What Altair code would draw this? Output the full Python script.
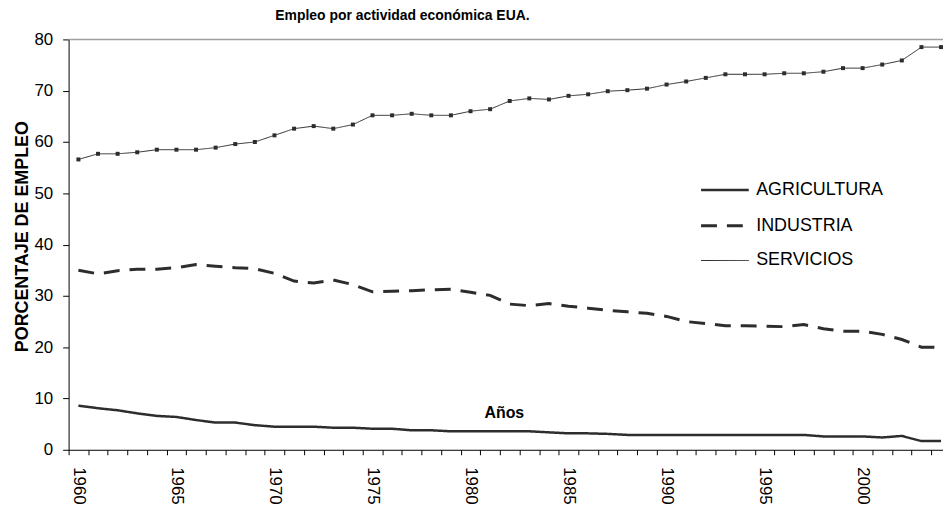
import altair as alt
import pandas as pd

years = list(range(1960, 2005))
agricultura = [8.6, 8.1, 7.7, 7.1, 6.6, 6.4, 5.8, 5.3, 5.3, 4.8, 4.5, 4.5, 4.5, 4.3, 4.3,
               4.1, 4.1, 3.8, 3.8, 3.6, 3.6, 3.6, 3.6, 3.6, 3.4, 3.2, 3.2, 3.1,
               2.9, 2.9, 2.9, 2.9, 2.9, 2.9, 2.9, 2.9, 2.9, 2.9,
               2.6, 2.6, 2.6, 2.4, 2.7, 1.7, 1.7]
industria = [35.0, 34.3, 34.9, 35.2, 35.2, 35.5, 36.1, 35.8, 35.5, 35.3, 34.4, 32.9, 32.5, 33.1, 32.2,
             30.8, 30.9, 31.0, 31.2, 31.3, 30.7, 30.1, 28.4, 28.1, 28.5, 28.0, 27.6, 27.2, 26.9, 26.6,
             26.0, 25.0, 24.6, 24.2, 24.2, 24.1, 24.0, 24.4, 23.6, 23.1, 23.1, 22.5, 21.5, 20.0, 20.0]
servicios = [56.6, 57.7, 57.7, 58.0, 58.5, 58.5, 58.5, 58.9, 59.6, 60.0, 61.3, 62.6, 63.1, 62.6, 63.4,
             65.2, 65.2, 65.5, 65.2, 65.2, 66.0, 66.4, 68.0, 68.5, 68.3, 69.0, 69.3, 69.9, 70.1, 70.4,
             71.2, 71.8, 72.5, 73.2, 73.2, 73.2, 73.4, 73.4, 73.7, 74.4, 74.4, 75.1, 75.9, 78.5, 78.5]
series = ["AGRICULTURA", "INDUSTRIA", "SERVICIOS"]
y_ticks = list(range(0, 81, 10))

rows = []
for name, vals in zip(series, [agricultura, industria, servicios]):
    for yr, v in zip(years, vals):
        rows.append({"year": yr, "value": v, "serie": name})
df = pd.DataFrame(rows)

FONT = "Liberation Sans"
INK = "#2d2d2d"
W, H = 880, 413
dom = [1959.5, 2004.1]
step = W / (dom[1] - dom[0])

x_enc = alt.X(
    "year:Q",
    scale=alt.Scale(domain=dom, nice=False, zero=False),
    axis=alt.Axis(
        values=years,
        labelExpr="datum.value % 5 == 0 ? '' + datum.value : ''",
        labelAngle=90, labelAlign="left", labelBaseline="middle",
        labelOverlap=False, labelBound=False, labelFlush=False,
        tickOffset=-step / 2, labelOffset=step / 2,
        tickSize=5, labelPadding=12, labelFontSize=17, labelFont=FONT, labelColor="black",
        domainColor="black", tickColor="black", grid=False,
        title="Años", titleFont=FONT, titleFontSize=16, titleFontWeight="bold", titleColor="black",
        titleX=438, titleY=-37, titleBaseline="middle", titleAlign="center",
    ),
)
y_enc = alt.Y(
    "value:Q",
    scale=alt.Scale(domain=[0, 80], nice=False),
    axis=alt.Axis(
        values=y_ticks, tickSize=6, labelPadding=10, labelFontSize=17, labelFont=FONT,
        labelColor="black", domainColor="black", tickColor="black", grid=False,
        title="PORCENTAJE DE EMPLEO", titleFont=FONT, titleFontSize=18, titleFontWeight="bold",
        titleColor="black", titleX=-41, titleY=198, titleAngle=270, titleAlign="center",
        titleBaseline="alphabetic",
    ),
)

legend_kw = dict(
    orient="none", legendX=635, legendY=126, title=None, symbolType="stroke",
    symbolSize=2304, labelFontSize=18, labelFont=FONT, labelColor="black",
    labelOffset=6, rowPadding=1, symbolStrokeColor=INK, padding=0,
)

lines = alt.Chart(df).mark_line(color=INK).encode(
    x=x_enc,
    y=y_enc,
    strokeDash=alt.StrokeDash(
        "serie:N",
        scale=alt.Scale(domain=series, range=[[1, 0], [16, 10], [1, 0]]),
        legend=alt.Legend(**legend_kw),
    ),
    strokeWidth=alt.StrokeWidth(
        "serie:N",
        scale=alt.Scale(type="ordinal", domain=series, range=[2.5, 3, 1]),
        legend=alt.Legend(**legend_kw),
    ),
)

points = alt.Chart(df).transform_filter(alt.datum.serie == "SERVICIOS").mark_point(
    shape="square", filled=True, size=16, color=INK, opacity=1
).encode(x=x_enc, y=y_enc)

top_rule = alt.Chart(pd.DataFrame({"v": [max(y_ticks)]})).mark_rule(
    color="#a0a0a0", strokeWidth=1.5
).encode(y=alt.datum(max(y_ticks)))

chart = alt.layer(lines, points, top_rule).properties(
    width=W, height=H,
    autosize=alt.AutoSizeParams(type="none"),
    padding={"left": 61, "top": 30, "right": 0, "bottom": 60},
    title=alt.TitleParams(
        "Empleo por actividad económica EUA.", font=FONT, fontSize=14, fontWeight="bold",
        color="black", anchor="middle", dx=-104, offset=8, frame="group",
    ),
).configure_view(stroke=None)

chart.save("out.html", embed_options={"renderer": "svg", "actions": False})
